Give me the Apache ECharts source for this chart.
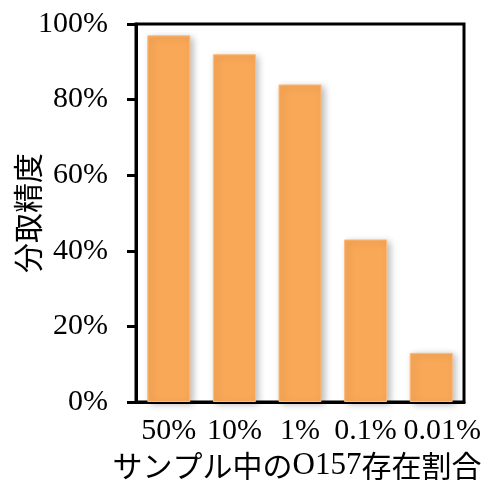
<!DOCTYPE html>
<html>
<head>
<meta charset="utf-8">
<script src="https://cdn.jsdelivr.net/npm/echarts@6/dist/echarts.min.js"></script>
<style>
  html, body { margin: 0; padding: 0; background: #fff; }
  #chart { width: 485px; height: 480px; }
</style>
</head>
<body>
<div id="chart"></div>
<script>
// Sample O157 ratio categories and the measured fractionation accuracy
const categories = ['50%', '10%', '1%', '0.1%', '0.01%'];
const accuracy = [0.97, 0.92, 0.84, 0.43, 0.13];
const yTicks = [0, 0.2, 0.4, 0.6, 0.8, 1.0];

const serif = '"Liberation Serif", "Times New Roman", serif';
const cjk = '"Noto Sans CJK JP", sans-serif';

// the last (widest) label is nudged right so it does not run into its neighbour
const categoryData = categories.map((c, i) =>
  i === categories.length - 1 ? { value: c, textStyle: { padding: [0, 0, 0, 22] } } : c
);

const chart = echarts.init(document.getElementById('chart'), null, { renderer: 'canvas' });
chart.setOption({
  animation: false,
  backgroundColor: '#ffffff',
  grid: {
    left: 136, right: 21, top: 24, bottom: 78,
    outerBoundsMode: 'none',
    containLabel: false,
    show: true, borderColor: '#000', borderWidth: 3, backgroundColor: 'transparent'
  },
  xAxis: {
    type: 'category',
    data: categoryData,
    axisLine: { show: true, lineStyle: { color: '#000', width: 3 } },
    axisTick: { show: false },
    axisLabel: { color: '#000', fontFamily: serif, fontSize: 30, margin: 14, interval: 0 },
    name: '{a|サンプル中の}{b|O157}{a|存在割合}',
    nameLocation: 'middle',
    nameGap: 48,
    nameMoveOverlap: false,
    nameTextStyle: {
      padding: [0, 0, 0, -6],
      rich: {
        a: { fontFamily: cjk, fontSize: 30, color: '#000' },
        b: { fontFamily: serif, fontSize: 31, color: '#000' }
      }
    }
  },
  yAxis: {
    type: 'value',
    min: yTicks[0],
    max: yTicks[yTicks.length - 1],
    interval: 0.2,
    splitLine: { show: false },
    axisLine: { show: true, lineStyle: { color: '#000', width: 3 } },
    axisTick: { show: true, inside: false, length: 9, lineStyle: { color: '#000', width: 3 } },
    axisLabel: {
      color: '#000', fontFamily: serif, fontSize: 30, margin: 28,
      formatter: v => Math.round(v * 100) + '%'
    },
    name: '分取精度',
    nameLocation: 'middle',
    nameRotate: 90,
    nameGap: 93,
    nameMoveOverlap: false,
    nameTextStyle: { fontFamily: cjk, fontSize: 30, color: '#000' }
  },
  series: [{
    type: 'bar',
    data: accuracy,
    barWidth: 43,
    itemStyle: {
      color: '#F9A857',
      borderColor: '#FBBC7E',
      borderWidth: 1,
      shadowColor: 'rgba(0,0,0,0.28)',
      shadowBlur: 7,
      shadowOffsetX: 3,
      shadowOffsetY: 2
    }
  }]
});
</script>
</body>
</html>
